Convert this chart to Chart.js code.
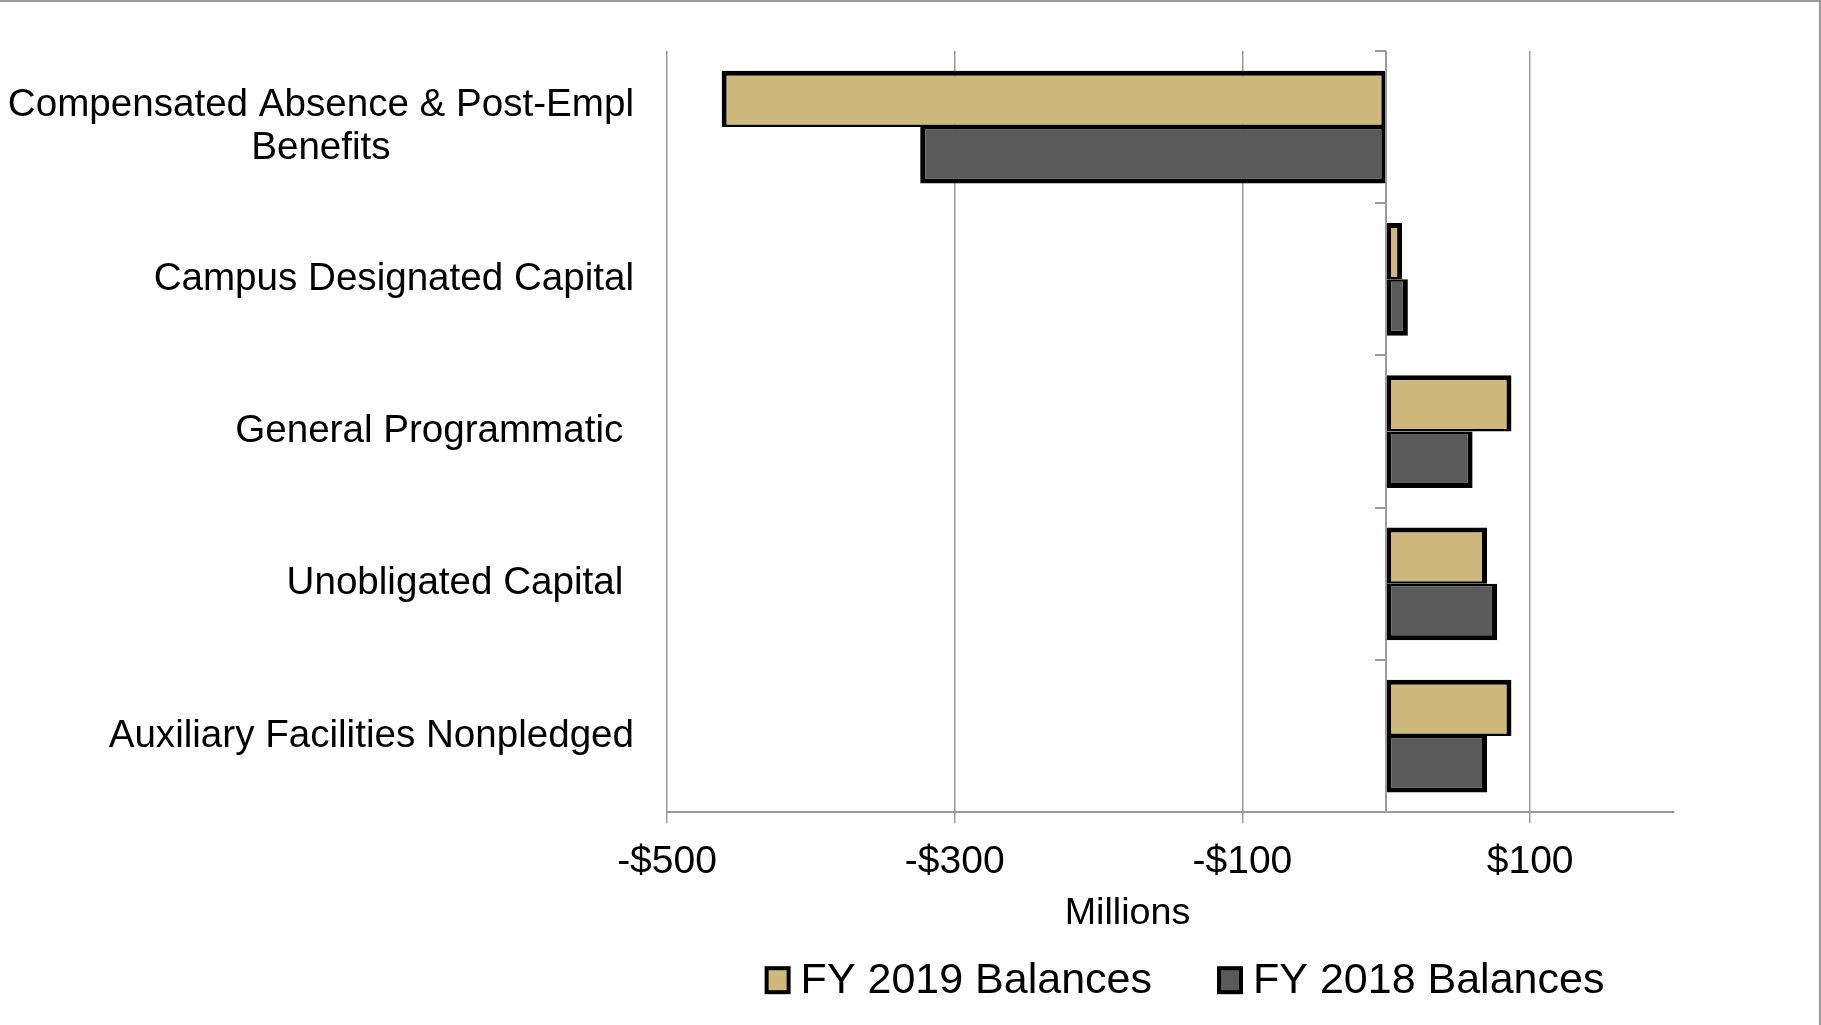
<!DOCTYPE html>
<html>
<head>
<meta charset="utf-8">
<script src="https://cdn.jsdelivr.net/npm/chart.js@4.4.1/dist/chart.umd.min.js"></script>
<style>
  html, body { margin: 0; padding: 0; background: #fff; }
  #wrap { position: relative; width: 1821px; height: 1025px; }
</style>
</head>
<body>
<div id="wrap"><canvas id="c"></canvas></div>
<script>
// ---- data ----
const categories = [
  ['Compensated Absence & Post-Empl', 'Benefits'],
  'Campus Designated Capital',
  'General Programmatic ',
  'Unobligated Capital ',
  'Auxiliary Facilities Nonpledged'
];
const seriesNames = ['FY 2019 Balances', 'FY 2018 Balances'];
const fy2019 = [-462, 11, 87, 70, 87];
const fy2018 = [-324, 15, 60, 77, 70];
const tickValues = [-500, -300, -100, 100];
const axisMin = -500;
const axisMax = 200;
const axisTitle = 'Millions';

// ---- styles ----
const FONT = "'Liberation Sans', Arial, sans-serif";
const GOLD = '#CFB87C';
const DARK = '#5A5A5A';
const GRID = '#9a9a9a';

function money(v) {
  return v < 0 ? '-$' + Math.abs(v) : '$' + v;
}

const decorPlugin = {
  id: 'decor',
  beforeDraw(chart) {
    const ctx = chart.ctx;
    ctx.save();
    ctx.fillStyle = '#fff';
    ctx.fillRect(0, 0, chart.width, chart.height);
    ctx.restore();
  },
  afterDatasetsDraw(chart) {
    const ctx = chart.ctx;
    const xs = chart.scales.x, ys = chart.scales.y;
    const area = chart.chartArea;
    const x0 = Math.round(xs.getPixelForValue(0));
    const n = categories.length;
    const step = ys.getPixelForValue(1) - ys.getPixelForValue(0);
    ctx.save();
    ctx.strokeStyle = GRID;
    ctx.lineWidth = 2;
    ctx.beginPath();
    ctx.moveTo(x0, area.top);
    ctx.lineTo(x0, area.bottom);
    for (let i = 0; i <= n; i++) {
      const y = Math.round(ys.getPixelForValue(0) - step / 2 + i * step);
      ctx.moveTo(x0 - 11, y);
      ctx.lineTo(x0, y);
    }
    ctx.stroke();
    ctx.restore();
  },
  afterDraw(chart) {
    const ctx = chart.ctx;
    const ys = chart.scales.y;
    const area = chart.chartArea;
    const midX = (area.left + area.right) / 2;
    ctx.save();
    // category labels (block right-aligned, lines centred as in the source)
    const right = area.left - 33;
    const lh = 43;
    ctx.font = '38.6px ' + FONT;
    ctx.fillStyle = '#000';
    ctx.textAlign = 'center';
    ctx.textBaseline = 'middle';
    categories.forEach((lab, i) => {
      const lines = Array.isArray(lab) ? lab : [lab];
      const w = Math.max(...lines.map(l => ctx.measureText(l).width));
      const cx = right - w / 2;
      const cy = ys.getPixelForValue(i);
      lines.forEach((l, j) => {
        ctx.fillText(l, cx, cy + (j - (lines.length - 1) / 2) * lh);
      });
    });
    // axis title
    ctx.font = '37.7px ' + FONT;
    ctx.fillText(axisTitle, midX - 43, area.bottom + 101);
    // legend
    ctx.font = '43px ' + FONT;
    const boxW = 26, boxH = 28, gapTxt = 10, gapItem = 65;
    const datasets = chart.data.datasets;
    const widths = datasets.map(d => boxW + gapTxt + ctx.measureText(d.label).width);
    const total = widths.reduce((a, b) => a + b, 0) + gapItem * (datasets.length - 1);
    let x = midX + 14 - total / 2;
    const ly = area.bottom + 168;
    ctx.textAlign = 'left';
    datasets.forEach((d, i) => {
      ctx.fillStyle = d.backgroundColor;
      ctx.fillRect(x + 2, ly - boxH / 2 + 2, boxW - 4, boxH - 4);
      ctx.strokeStyle = '#000';
      ctx.lineWidth = 4;
      ctx.strokeRect(x + 2, ly - boxH / 2 + 2, boxW - 4, boxH - 4);
      ctx.fillStyle = '#000';
      ctx.fillText(d.label, x + boxW + gapTxt, ly + 1);
      x += widths[i] + gapItem;
    });
    // frame (top and right)
    ctx.strokeStyle = '#9a9a9a';
    ctx.lineWidth = 2;
    ctx.beginPath();
    ctx.moveTo(0, 1);
    ctx.lineTo(chart.width - 1, 1);
    ctx.lineTo(chart.width - 1, chart.height);
    ctx.stroke();
    ctx.restore();
  }
};

new Chart(document.getElementById('c'), {
  type: 'bar',
  data: {
    labels: categories,
    datasets: [
      {
        label: seriesNames[0],
        data: fy2019,
        backgroundColor: GOLD,
        borderColor: '#000',
        borderWidth: { top: 5, bottom: 2.5, left: 5, right: 5 },
        borderSkipped: false
      },
      {
        label: seriesNames[1],
        data: fy2018,
        backgroundColor: DARK,
        borderColor: '#000',
        borderWidth: { top: 2.5, bottom: 5, left: 5, right: 5 },
        borderSkipped: false
      }
    ]
  },
  options: {
    indexAxis: 'y',
    responsive: true,
    maintainAspectRatio: false,
    animation: false,
    devicePixelRatio: 1,
    layout: { padding: { left: 667, right: 147, top: 51, bottom: 123 } },
    datasets: { bar: { categoryPercentage: 0.74, barPercentage: 1.0 } },
    scales: {
      x: {
        type: 'linear',
        min: axisMin,
        max: axisMax,
        afterBuildTicks(axis) { axis.ticks = tickValues.map(v => ({ value: v })); },
        grid: { color: GRID, lineWidth: 1.5, tickLength: 11, tickColor: GRID, drawTicks: true },
        border: { display: true, color: GRID, width: 2 },
        ticks: {
          font: { family: FONT, size: 39 },
          color: '#000',
          padding: 16,
          maxRotation: 0,
          callback: (v) => money(v)
        },
        title: { display: false }
      },
      y: {
        type: 'category',
        display: false
      }
    },
    plugins: {
      legend: { display: false },
      tooltip: { enabled: false }
    }
  },
  plugins: [decorPlugin]
});
</script>
</body>
</html>
